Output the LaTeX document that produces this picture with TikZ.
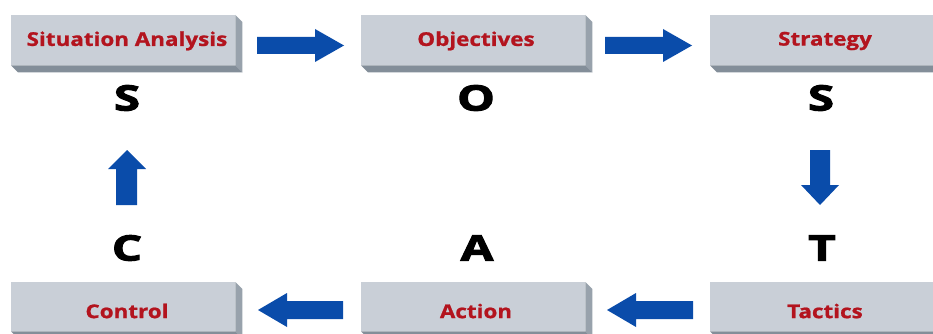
\documentclass[tikz,border=0pt]{standalone}
\usepackage{fontspec}
\newfontfamily\labfont[FakeStretch=1.18,FakeBold=1]{Open Sans Bold}
\newfontfamily\letfont[FakeStretch=1.36,FakeBold=3]{Open Sans Bold}
\definecolor{frontcol}{HTML}{C9CFD7}
\definecolor{sidecol}{HTML}{98A2AC}
\definecolor{botcol}{HTML}{838E99}
\definecolor{labred}{HTML}{B3141E}
\definecolor{arrblue}{HTML}{0A4CAA}
\tikzset{
  boxface/.style={rectangle, fill=frontcol, inner sep=0pt, minimum width=224pt, font=\labfont\fontsize{19}{21}\selectfont, text=labred},
  bigletter/.style={inner sep=0pt, font=\letfont\fontsize{35}{38}\selectfont, text=black},
  blockarrow/.style={fill=arrblue},
}
\newcommand{\mybox}[4]{%
  \node[boxface, minimum height=#3pt, anchor=north west] (#1) at #2 {};
  \fill[sidecol] (#1.north east) -- ++(7,7) -- ([shift={(7,7)}]#1.south east) -- (#1.south east) -- cycle;
  \fill[botcol] (#1.south west) -- (#1.south east) -- ([shift={(7,7)}]#1.south east) -- ([shift={(7,7)}]#1.south west) -- cycle;
}
\begin{document}
\begin{tikzpicture}[x=1pt,y=-1pt]
\useasboundingbox (0,0) rectangle (933,334);
\fill[white] (0,0) rectangle (933,334);
% boxes
\mybox{sa}{(11,15)}{50}{}
\mybox{ob}{(361,15)}{50}{}
\mybox{st}{(710,15)}{50}{}
\mybox{co}{(11,282)}{49}{}
\mybox{ac}{(361,282)}{49}{}
\mybox{ta}{(710,282)}{49}{}
% labels
\node[boxface, fill=none, minimum width=0pt] (tsa) at (127,41) {Situation Analysis};
\node[boxface, fill=none, minimum width=0pt] (tob) at (476,41) {Objectives};
\node[boxface, fill=none, minimum width=0pt] (tst) at (825,41) {Strategy};
\node[boxface, fill=none, minimum width=0pt] (tco) at (127,311) {Control};
\node[boxface, fill=none, minimum width=0pt] (tac) at (476,311) {Action};
\node[boxface, fill=none, minimum width=0pt] (tta) at (825,311) {Tactics};
% letters
\node[bigletter] (l1) at (127,98) {S};
\node[bigletter] (l2) at (476,98) {O};
\node[bigletter] (l3) at (821,98) {S};
\node[bigletter] (l4) at (127,248) {C};
\node[bigletter] (l5) at (477,248) {A};
\node[bigletter] (l6) at (822,248) {T};
% arrows right (top row)
\fill[blockarrow] (257,37) -- (315,37) -- (315,29) -- (344,45.5) -- (315,62) -- (315,54) -- (257,54) -- cycle;
\fill[blockarrow] (605,37) -- (663,37) -- (663,29) -- (692,45.5) -- (663,62) -- (663,54) -- (605,54) -- cycle;
% arrow down
\fill[blockarrow] (810,150) -- (830,150) -- (830,185) -- (839,185) -- (820,205) -- (801,185) -- (810,185) -- cycle;
% arrows left (bottom row)
\fill[blockarrow] (693,301) -- (636,301) -- (636,293) -- (607,310) -- (636,327) -- (636,319) -- (693,319) -- cycle;
\fill[blockarrow] (343,301) -- (287,301) -- (287,293) -- (258,310) -- (287,327) -- (287,319) -- (343,319) -- cycle;
% arrow up
\fill[blockarrow] (116,205) -- (116,169) -- (108,169) -- (127,150) -- (146,169) -- (137,169) -- (137,205) -- cycle;
\end{tikzpicture}
\end{document}
